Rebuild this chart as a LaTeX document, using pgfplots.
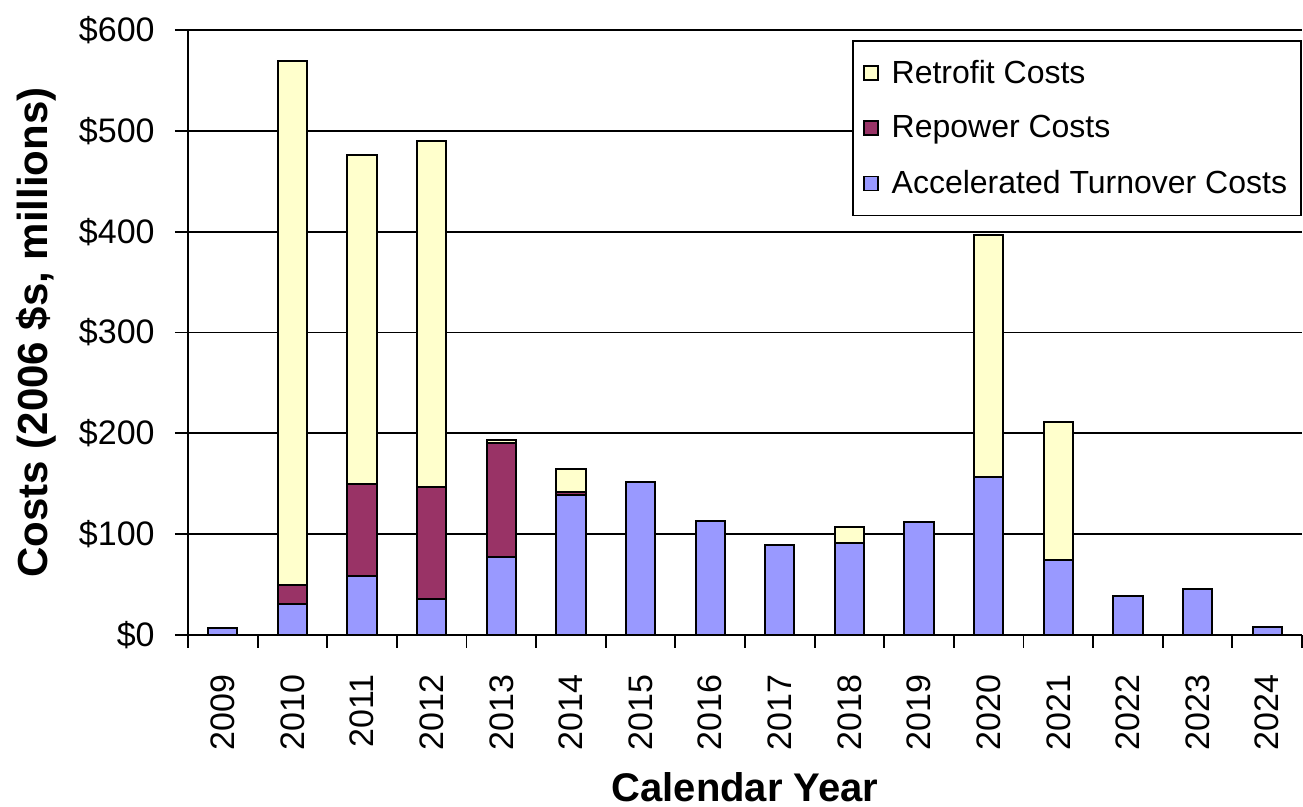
\documentclass[border=0pt]{standalone}
\usepackage{pgfplots}
\pgfplotsset{compat=1.18}
\usepackage{fontspec}
\setmainfont{Liberation Sans}

\definecolor{retrofit}{HTML}{FFFFCC}
\definecolor{repower}{HTML}{993366}
\definecolor{turnover}{HTML}{9999FF}

\begin{document}
\begin{tikzpicture}
\begin{axis}[
  scale only axis,
  width=557pt, height=302.5pt,
  ybar stacked,
  bar width=0.42,
  xmin=-0.5, xmax=15.5,
  ymin=0, ymax=600,
  xtick={0,...,15},
  xticklabels={2009,2010,2011,2012,2013,2014,2015,2016,2017,2018,2019,2020,2021,2022,2023,2024},
  major x tick style={draw=none},
  minor xtick={-0.5,0.5,...,15.5},
  minor x tick style={black, line width=0.9pt},
  minor tick length=6.5pt,
  ytick={0,100,...,600},
  yticklabel={\$\pgfmathprintnumber{\tick}},
  /pgf/number format/assume math mode=true,
  y tick style={black, line width=0.9pt},
  major tick length=6.5pt,
  tick align=outside,
  axis x line*=bottom,
  axis y line*=left,
  axis line style={black, line width=0.9pt, -},
  ymajorgrids,
  grid style={black, line width=0.9pt},
  tick label style={font=\fontsize{17}{17}\selectfont},
  xticklabel style={rotate=90, anchor=east, inner sep=0pt},
  xticklabel shift=13pt,
  yticklabel style={anchor=east, inner sep=0pt},
  yticklabel shift=10pt,
  xlabel={\bfseries Calendar Year},
  ylabel={\bfseries Costs (2006 \$s, millions)},
  xlabel style={font=\fontsize{20}{20}\selectfont, at={(axis description cs:0.5,0)}, anchor=center, yshift=-76pt},
  ylabel style={font=\fontsize{21}{21}\selectfont, at={(axis description cs:0,0.5)}, anchor=center, yshift=76pt},
  legend style={at={(1,0.9835)}, anchor=north east, draw=black, line width=0.9pt,
    font=\fontsize{16}{16}\selectfont, row sep=10.75pt, inner xsep=5pt, inner ysep=7.5pt},
  legend cell align=left,
  reverse legend,
  legend image code/.code={
    \draw[#1, draw=black, line width=0.9pt] (0pt,-3.5pt) rectangle (7pt,3.5pt);
    \path[draw=none, fill=none] (7pt,0pt) -- (12pt,0pt);},
  every axis plot/.append style={draw=black, line width=1pt},
]
% Accelerated turnover costs
\addplot[fill=turnover] coordinates {
  (0,7) (1,31) (2,59) (3,35.5) (4,77) (5,139) (6,152) (7,113) (8,89)
  (9,91.5) (10,112.5) (11,156.5) (12,74) (13,39) (14,46) (15,8)};
% Repower costs
\addplot[fill=repower] coordinates {
  (0,0) (1,18.5) (2,91) (3,111.5) (4,113.5) (5,3) (6,0) (7,0) (8,0)
  (9,0) (10,0) (11,0) (12,0) (13,0) (14,0) (15,0)};
% Retrofit costs
\addplot[fill=retrofit] coordinates {
  (0,0) (1,520) (2,326) (3,343) (4,3) (5,23) (6,0) (7,0) (8,0)
  (9,16) (10,0) (11,240.5) (12,137) (13,0) (14,0) (15,0)};
\legend{Accelerated Turnover Costs, Repower Costs, Retrofit Costs}
\coordinate (bl) at (rel axis cs:0,0);
\coordinate (tr) at (rel axis cs:1,1);
\end{axis}
\pgfresetboundingbox
\path[use as bounding box] ([xshift=-94pt,yshift=-86pt]bl) rectangle ([xshift=0.5pt,yshift=15pt]tr);
\end{tikzpicture}
\end{document}
